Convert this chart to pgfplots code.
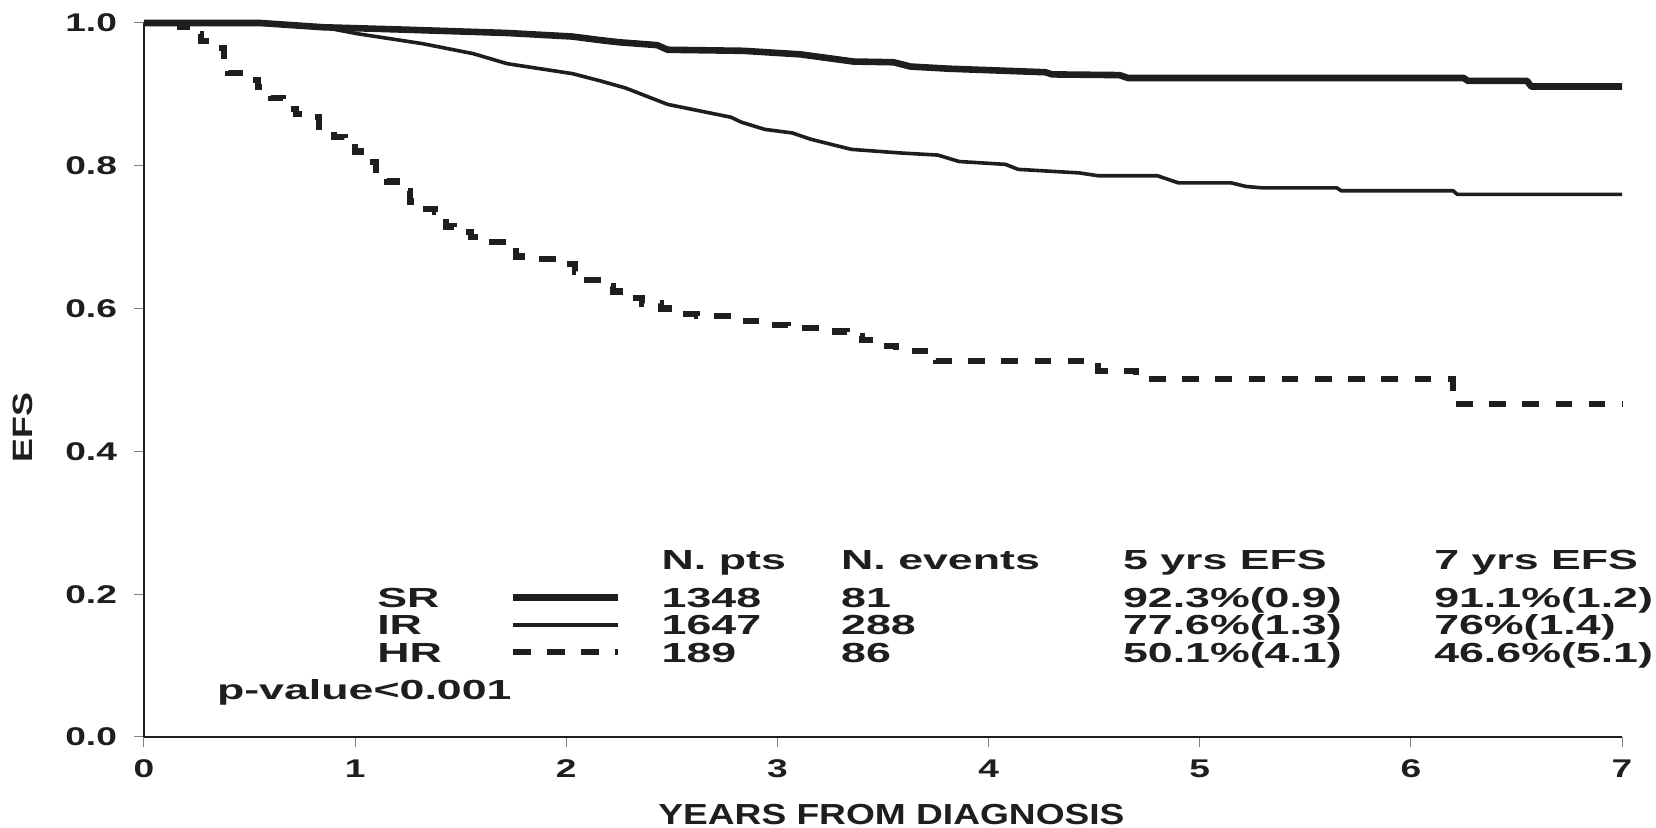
\documentclass[border=0pt]{standalone}
\usepackage{pgfplots}
\pgfplotsset{compat=1.18}
\usepackage{fontspec}
\setmainfont{Liberation Sans}
\newfontfamily\sfx[FakeStretch=1.45]{Liberation Sans}
\newfontfamily\sfl[FakeStretch=1.62]{Liberation Sans}
\newfontfamily\sft[FakeStretch=1.28]{Liberation Sans}
\definecolor{ink}{HTML}{1E1E1E}

\pgfplotstableread{
x y
0 1
0.55 1
0.85 0.994
1.20 0.991
1.72 0.986
2.03 0.981
2.16 0.976
2.25 0.973
2.43 0.969
2.48 0.9625
2.84 0.961
3.11 0.956
3.36 0.946
3.55 0.945
3.63 0.939
3.81 0.936
4.27 0.931
4.30 0.928
4.62 0.927
4.66 0.923
6.25 0.923
6.27 0.919
6.55 0.919
6.57 0.911
7.00 0.911
}\SRdata

\pgfplotstableread{
x y
0 1
0.50 0.999
0.85 0.994
1.01 0.985
1.32 0.971
1.56 0.957
1.72 0.943
2.03 0.929
2.16 0.919
2.28 0.909
2.48 0.886
2.78 0.868
2.83 0.861
2.94 0.851
3.07 0.846
3.16 0.837
3.35 0.823
3.58 0.818
3.76 0.815
3.86 0.806
4.08 0.802
4.14 0.795
4.43 0.790
4.52 0.786
4.80 0.786
4.90 0.776
5.15 0.776
5.22 0.771
5.30 0.769
5.65 0.769
5.67 0.765
6.20 0.765
6.22 0.760
7.00 0.760
}\IRdata

\pgfplotstableread{
x y
0 1
0.17 0.995
0.22 0.985
0.27 0.975
0.33 0.965
0.38 0.940
0.40 0.930
0.48 0.920
0.54 0.910
0.60 0.895
0.66 0.880
0.72 0.873
0.79 0.868
0.83 0.850
0.90 0.840
0.95 0.835
1.00 0.820
1.05 0.805
1.10 0.790
1.15 0.778
1.20 0.765
1.26 0.750
1.30 0.740
1.38 0.735
1.43 0.715
1.47 0.707
1.55 0.700
1.62 0.693
1.70 0.680
1.76 0.673
1.86 0.670
1.97 0.662
2.04 0.652
2.10 0.640
2.15 0.631
2.22 0.624
2.30 0.615
2.36 0.607
2.45 0.600
2.55 0.592
2.62 0.590
2.80 0.583
2.92 0.577
3.05 0.573
3.20 0.568
3.33 0.562
3.40 0.556
3.46 0.548
3.56 0.541
3.75 0.527
4.52 0.513
4.70 0.501
6.20 0.466
7.00 0.466
}\HRdata

\begin{document}
\begin{tikzpicture}
\begin{axis}[
  at={(0,0)}, anchor=south west,
  scale only axis, width=739pt, height=357pt,
  xmin=0, xmax=7, ymin=0, ymax=1,
  axis x line*=bottom, axis y line*=left,
  axis line style={-, line width=1.3pt, color=ink},
  tick align=outside, major tick length=5pt,
  tick style={line width=0.5pt, color=gray},
  xtick={0,1,2,3,4,5,6,7}, xticklabels={0,1,2,3,4,5,6,7},
  ytick={0,0.2,0.4,0.6,0.8,1}, yticklabels={0.0,0.2,0.4,0.6,0.8,1.0},
  ticklabel style={font=\sfx\bfseries\fontsize{12.8}{12.8}\selectfont, text=ink},
  xticklabel style={yshift=-3pt},
  yticklabel style={xshift=-5pt},
  clip=false,
]
\addplot[ink, line width=3.3pt, line join=round] table {\SRdata};
\addplot[ink, line width=1.8pt, line join=round] table {\IRdata};
\addplot[ink, line width=3.1pt, const plot, dash pattern=on 8.3pt off 8.3pt] table {\HRdata};

% legend samples
\addplot[ink, line width=3.3pt, forget plot] coordinates {(1.747,0.195) (2.243,0.195)};
\addplot[ink, line width=1.8pt, forget plot] coordinates {(1.747,0.157) (2.243,0.157)};
\addplot[ink, line width=2.6pt, dash pattern=on 9pt off 8pt, forget plot] coordinates {(1.747,0.119) (2.243,0.119)};

\begin{scope}[every node/.style={anchor=base west, inner sep=0pt, text=ink, font=\sfl\bfseries\fontsize{13.8}{13.8}\selectfont}]
\node at (axis cs:2.450,0.234) {N. pts};
\node at (axis cs:3.300,0.234) {N. events};
\node at (axis cs:4.635,0.234) {5 yrs EFS};
\node at (axis cs:6.109,0.234) {7 yrs EFS};
\node at (axis cs:1.103,0.181) {SR};
\node at (axis cs:2.450,0.181) {1348};
\node at (axis cs:3.300,0.181) {81};
\node at (axis cs:4.635,0.181) {92.3\%(0.9)};
\node at (axis cs:6.109,0.181) {91.1\%(1.2)};
\node at (axis cs:1.103,0.143) {IR};
\node at (axis cs:2.450,0.143) {1647};
\node at (axis cs:3.300,0.143) {288};
\node at (axis cs:4.635,0.143) {77.6\%(1.3)};
\node at (axis cs:6.109,0.143) {76\%(1.4)};
\node at (axis cs:1.103,0.105) {HR};
\node at (axis cs:2.450,0.105) {189};
\node at (axis cs:3.300,0.105) {86};
\node at (axis cs:4.635,0.105) {50.1\%(4.1)};
\node at (axis cs:6.109,0.105) {46.6\%(5.1)};
\node at (axis cs:0.344,0.052) {p-value<0.001};
\end{scope}

\node[anchor=base, inner sep=0pt, text=ink, font=\sft\bfseries\fontsize{14.5}{14.5}\selectfont]
  at ([yshift=-44pt]axis cs:3.54,0) {YEARS FROM DIAGNOSIS};
\node[rotate=90, anchor=center, inner sep=0pt, text=ink, font=\sft\bfseries\fontsize{14}{14}\selectfont]
  at (axis cs:-0.573,0.433) {EFS};
\end{axis}
\path[use as bounding box] (-72pt,-45.5pt) rectangle (756pt,368.5pt);
\end{tikzpicture}
\end{document}
